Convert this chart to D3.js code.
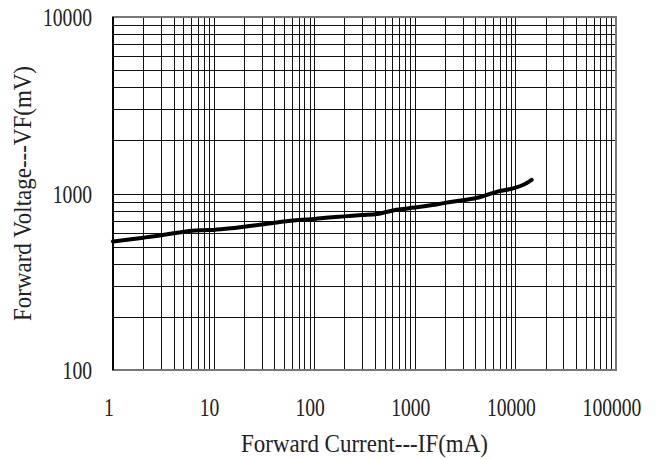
<!DOCTYPE html>
<html>
<head>
<meta charset="utf-8">
<script src="https://cdn.jsdelivr.net/npm/d3@7"></script>
<style>
  body { margin: 0; background: #fff; }
  text { font-family: "Liberation Serif", "DejaVu Serif", serif; fill: #222; }
</style>
</head>
<body>
<div id="chart"></div>
<script>
(function () {
  'use strict';

  // forward current (mA) and forward voltage (mV)
  var currentMA = [1, 2, 3, 4, 5, 6, 8, 10, 15, 20, 30, 50, 70, 100, 150, 200, 300, 420, 660, 1000, 1500, 2000, 3000, 4400, 6500, 9500, 12000, 14500];
  var voltageMV = [535, 562, 580, 595, 606, 615, 620, 622, 635, 648, 667, 695, 708, 718, 733, 742, 755, 765, 810, 832, 860, 885, 915, 952, 1022, 1070, 1120, 1195];

  var xTicks = [1, 10, 100, 1000, 10000, 100000];
  var yTicks = [100, 1000, 10000];

  var width = 662, height = 459,
      left = 113, right = 616, top = 17, bottom = 370,
      digitW = 9.8;

  var svg = d3.select('#chart').append('svg')
      .attr('width', width)
      .attr('height', height);

  var x = d3.scaleLog().domain([1, 100000]).range([left, right]);
  var y = d3.scaleLog().domain([100, 10000]).range([bottom, top]);

  // minor grid: every 1..9 step inside each decade
  var xGrid = [], yGrid = [];
  xTicks.slice(0, -1).forEach(function (d) {
    for (var k = 2; k <= 9; k++) xGrid.push(d * k);
  });
  xGrid = xGrid.concat(xTicks);
  yTicks.slice(0, -1).forEach(function (d) {
    for (var k = 2; k <= 9; k++) yGrid.push(d * k);
  });
  yGrid = yGrid.concat(yTicks);

  var grid = svg.append('g').attr('class', 'grid');

  grid.selectAll('.vline')
      .data(xGrid)
      .enter()
      .append('line')
      .attr('x1', function (d) { return Math.round(x(d)) + 0.5; })
      .attr('x2', function (d) { return Math.round(x(d)) + 0.5; })
      .attr('y1', top)
      .attr('y2', bottom)
      .attr('stroke', '#111')
      .attr('stroke-width', 1);

  grid.selectAll('.hline')
      .data(yGrid)
      .enter()
      .append('line')
      .attr('y1', function (d) { return Math.round(y(d)) + 0.5; })
      .attr('y2', function (d) { return Math.round(y(d)) + 0.5; })
      .attr('x1', left)
      .attr('x2', right)
      .attr('stroke', '#111')
      .attr('stroke-width', 1);

  // frame
  svg.append('rect')
      .attr('x', left)
      .attr('y', top)
      .attr('width', right - left)
      .attr('height', bottom - top)
      .attr('fill', 'none')
      .attr('stroke', '#777')
      .attr('stroke-width', 2);
  svg.append('line')
      .attr('x1', left).attr('x2', left)
      .attr('y1', top).attr('y2', bottom)
      .attr('stroke', '#000').attr('stroke-width', 2);

  // curve
  var line = d3.line()
      .x(function (d) { return x(d[0]); })
      .y(function (d) { return y(d[1]); })
      .curve(d3.curveMonotoneX);

  svg.append('path')
      .datum(d3.zip(currentMA, voltageMV))
      .attr('d', line)
      .attr('fill', 'none')
      .attr('stroke', '#000')
      .attr('stroke-width', 4)
      .attr('stroke-linecap', 'round');

  // tick labels (narrow, tall digits like the original)
  svg.append('g').selectAll('text')
      .data(xTicks)
      .enter()
      .append('text')
      .attr('x', function (d) { return x(d) - 4; })
      .attr('y', 416)
      .attr('text-anchor', 'middle')
      .attr('font-size', 25)
      .attr('textLength', function (d) { return String(d).length * digitW; })
      .attr('lengthAdjust', 'spacingAndGlyphs')
      .text(function (d) { return d; });

  svg.append('g').selectAll('text')
      .data(yTicks)
      .enter()
      .append('text')
      .attr('x', 92)
      .attr('y', function (d) { return y(d) + 9; })
      .attr('text-anchor', 'end')
      .attr('font-size', 25)
      .attr('textLength', function (d) { return String(d).length * digitW; })
      .attr('lengthAdjust', 'spacingAndGlyphs')
      .text(function (d) { return d; });

  // axis titles
  svg.append('text')
      .attr('x', (left + right) / 2)
      .attr('y', 452)
      .attr('text-anchor', 'middle')
      .attr('font-size', 25)
      .attr('textLength', 247)
      .attr('lengthAdjust', 'spacingAndGlyphs')
      .text('Forward Current---IF(mA)');

  svg.append('text')
      .attr('transform', 'translate(31,' + (top + bottom) / 2 + ') rotate(-90)')
      .attr('text-anchor', 'middle')
      .attr('font-size', 25)
      .attr('textLength', 255)
      .attr('lengthAdjust', 'spacingAndGlyphs')
      .text('Forward Voltage---VF(mV)');
}());
</script>
</body>
</html>
